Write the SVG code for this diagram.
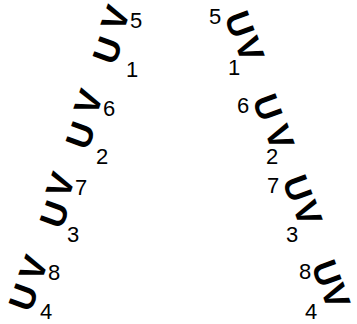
<svg xmlns="http://www.w3.org/2000/svg" width="357" height="324" viewBox="0 0 357 324">
<style>
.L{font-family:"Liberation Sans",Arial,sans-serif;font-weight:bold;font-size:35px;fill:#000;text-anchor:middle;dominant-baseline:central}
.n{font-family:"Liberation Sans",Arial,sans-serif;font-size:22px;fill:#000}
</style>
<rect width="357" height="324" fill="#fff"/>
<g id="left1">
<text class="L" transform="translate(107,50) rotate(-70)">U</text>
<text class="L" transform="translate(115,18) rotate(-70)">V</text>
<text class="n" x="130" y="28">5</text>
<text class="n" x="126" y="77">1</text>
</g>
<g id="left2">
<text class="L" transform="translate(80,135) rotate(-70)">U</text>
<text class="L" transform="translate(88,102) rotate(-70)">V</text>
<text class="n" x="103" y="116">6</text>
<text class="n" x="96" y="164">2</text>
</g>
<g id="left3">
<text class="L" transform="translate(54,214) rotate(-70)">U</text>
<text class="L" transform="translate(60,185) rotate(-70)">V</text>
<text class="n" x="75" y="195">7</text>
<text class="n" x="67" y="242">3</text>
</g>
<g id="left4">
<text class="L" transform="translate(23,297) rotate(-70)">U</text>
<text class="L" transform="translate(33,268) rotate(-70)">V</text>
<text class="n" x="48" y="280">8</text>
<text class="n" x="40" y="319">4</text>
</g>
<g id="right1">
<text class="n" x="209" y="24">5</text>
<text class="L" transform="translate(240,24) rotate(70)">U</text>
<text class="L" transform="translate(250,49) rotate(70)">V</text>
<text class="n" x="228" y="75">1</text>
</g>
<g id="right2">
<text class="n" x="237" y="113">6</text>
<text class="L" transform="translate(268,107) rotate(70)">U</text>
<text class="L" transform="translate(280,137) rotate(70)">V</text>
<text class="n" x="266" y="164">2</text>
</g>
<g id="right3">
<text class="n" x="267" y="193">7</text>
<text class="L" transform="translate(298,188) rotate(70)">U</text>
<text class="L" transform="translate(308,213) rotate(70)">V</text>
<text class="n" x="286" y="242">3</text>
</g>
<g id="right4">
<text class="n" x="299" y="279">8</text>
<text class="L" transform="translate(327,273) rotate(70)">U</text>
<text class="L" transform="translate(336,296) rotate(70)">V</text>
<text class="n" x="305" y="319">4</text>
</g>
</svg>
